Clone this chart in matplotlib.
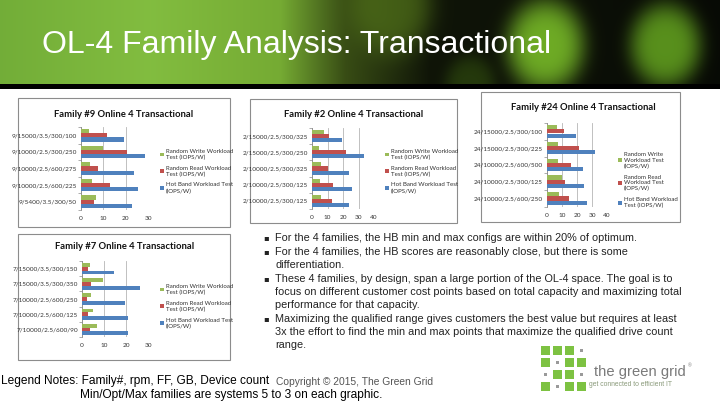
import matplotlib
matplotlib.use("Agg")
import matplotlib.pyplot as plt
import numpy as np
from matplotlib.patches import Rectangle

W, H = 720, 405

# ---- data (top row first) ----
fam9_labels = ["9/15000/3.5/300/100", "9/10000/2.5/300/250", "9/10000/2.5/600/275",
               "9/10000/2.5/600/225", "9/5400/3.5/300/50"]
fam9_write = [3.5, 10.0, 4.0, 4.8, 6.7]
fam9_read = [11.5, 20.4, 7.5, 13.0, 6.0]
fam9_hot = [19.4, 28.5, 23.7, 25.4, 22.7]

fam2_labels = ["2/15000/2.5/300/325", "2/15000/2.5/300/250", "2/10000/2.5/300/325",
               "2/10000/2.5/300/125", "2/10000/2.5/300/125"]
fam2_write = [7.9, 4.5, 6.0, 5.3, 5.7]
fam2_read = [11.0, 21.7, 10.0, 13.6, 12.8]
fam2_hot = [19.4, 33.6, 23.8, 25.5, 23.8]

fam24_labels = ["24/15000/2.5/300/100", "24/15000/2.5/300/225", "24/10000/2.5/600/500",
                "24/10000/2.5/300/125", "24/10000/2.5/600/250"]
fam24_write = [6.5, 7.1, 7.1, 9.8, 7.8]
fam24_read = [11.0, 21.0, 16.0, 12.3, 14.5]
fam24_hot = [19.0, 31.7, 23.9, 24.6, 26.6]

fam7_labels = ["7/15000/3.5/300/150", "7/15000/3.5/300/350", "7/10000/2.5/600/250",
               "7/10000/2.5/600/125", "7/10000/2.5/600/90"]
fam7_write = [3.7, 9.7, 4.0, 5.0, 6.7]
fam7_read = [2.5, 4.0, 2.2, 2.5, 3.7]
fam7_hot = [14.5, 26.5, 19.5, 21.0, 21.0]

legend_two_line = ["Random Write Workload\nTest (IOPS/W)",
                   "Random Read Workload\nTest (IOPS/W)",
                   "Hot Band Workload Test\n(IOPS/W)"]
legend_three_line = ["Random Write\nWorkload Test\n(IOPS/W)",
                     "Random Read\nWorkload Test\n(IOPS/W)",
                     "Hot Band Workload\nTest (IOPS/W)"]

bullets = [
    ["For the 4 families, the HB min and max configs are within 20% of optimum."],
    ["For the 4 families, the HB scores are reasonably close, but there is some",
     "differentiation."],
    ["These 4 families, by design, span a large portion of the OL-4 space. The goal is to",
     "focus on different customer cost points based on total capacity and maximizing total",
     "performance for that capacity."],
    ["Maximizing the qualified range gives customers the best value but requires at least",
     "3x the effort to find the min and max points that maximize the qualified drive count",
     "range."],
]

GREEN, RED, BLUE = "#9BBB59", "#C0504D", "#4F81BD"
CHART_FONT = "Lato"


def fx(x):
    return x / W


def fy(y):
    return 1 - y / H


def add_px_axes(fig, x0, y0, x1, y1, **kw):
    return fig.add_axes([fx(x0), fy(y1), (x1 - x0) / W, (y1 - y0) / H], **kw)


def draw_header(fig):
    ax = add_px_axes(fig, 0, 0, W, 84)
    xs = np.arange(W)
    ys = np.arange(84)
    stops_x = [0, 150, 280, 345, 430, 720]
    stops_c = np.array([[0.45, 0.68, 0.22], [0.51, 0.74, 0.25], [0.46, 0.67, 0.20],
                        [0.22, 0.30, 0.08], [0.06, 0.08, 0.03], [0.03, 0.04, 0.02]])
    base = np.stack([np.interp(xs, stops_x, stops_c[:, k]) for k in range(3)], axis=-1)
    img = np.repeat(base[None, :, :], len(ys), axis=0)
    gx, gy = np.meshgrid(xs, ys)
    blobs = [(390, 5, 50, (0.32, 0.45, 0.10), 0.7),
             (545, 45, 46, (0.45, 0.70, 0.15), 0.95),
             (665, 45, 42, (0.38, 0.62, 0.12), 0.9),
             (470, 85, 30, (0.20, 0.32, 0.06), 0.6)]
    for cx, cy, r, col, amp in blobs:
        d = np.hypot((gx - cx) / 0.85, gy - cy) / r
        a = amp * np.exp(-d ** 4)
        img = img * (1 - a[..., None]) + np.array(col) * a[..., None]
    ax.imshow(img, aspect="auto", extent=(0, W, 84, 0))
    ax.set_axis_off()
    band = add_px_axes(fig, 0, 84, W, 89)
    band.set_facecolor("black")
    band.set_xticks([])
    band.set_yticks([])
    for s in band.spines.values():
        s.set_visible(False)
    fig.text(fx(42), fy(45), "OL-4 Family Analysis: Transactional", color="white",
             fontsize=23, family="Liberation Sans", va="center", ha="left")


def draw_panel(fig, box, plot, title, title_xy, labels, write, read, hot,
               xmax, legend_xy, legend_labels):
    bx0, by0, bx1, by1 = box
    fig.patches.append(Rectangle((fx(bx0), fy(by1)), (bx1 - bx0) / W, (by1 - by0) / H,
                                 transform=fig.transFigure, facecolor="white",
                                 edgecolor="#8c8c8c", linewidth=0.8, zorder=-1))
    fig.text(fx(title_xy[0]), fy(title_xy[1]), title, ha="center", va="center",
             fontsize=6.8, fontweight="bold", family=CHART_FONT, color="#111111")

    ax = add_px_axes(fig, *plot)
    ax.set_facecolor("none")
    n = len(labels)
    y = np.arange(n)
    h = 0.25
    b_w = ax.barh(y - h, write, height=h, color=GREEN, zorder=3)
    b_r = ax.barh(y, read, height=h, color=RED, zorder=3)
    b_h = ax.barh(y + h, hot, height=h, color=BLUE, zorder=3)
    ax.set_ylim(n - 0.5, -0.5)
    ax.set_xlim(0, xmax)
    ax.set_xticks(np.arange(0, xmax + 1, 10))
    ax.set_yticks(y)
    ax.set_yticklabels(labels)
    ax.set_yticks(np.arange(n + 1) - 0.5, minor=True)
    ax.tick_params(axis="y", which="major", length=0, pad=3)
    ax.tick_params(axis="y", which="minor", length=2, color="#8c8c8c", width=0.5)
    ax.tick_params(axis="x", length=0, pad=4)
    for lab in ax.get_xticklabels() + ax.get_yticklabels():
        lab.set_fontsize(4.6)
        lab.set_family(CHART_FONT)
        lab.set_color("#333333")
    ax.grid(axis="x", color="#b5b5b5", linewidth=0.6, zorder=0)
    for side in ["top", "right", "bottom"]:
        ax.spines[side].set_visible(False)
    ax.spines["left"].set_color("#8c8c8c")
    ax.spines["left"].set_linewidth(0.6)

    fig.legend([b_w, b_r, b_h], legend_labels, loc="upper left",
               bbox_to_anchor=(fx(legend_xy[0]), fy(legend_xy[1])),
               frameon=False, prop={"family": CHART_FONT, "size": 4.4},
               handlelength=0.6, handleheight=0.6, handletextpad=0.4,
               labelspacing=0.9, borderpad=0, borderaxespad=0,
               labelcolor="#333333")


def draw_logo(fig):
    # the green grid mark: 4 x 4 cells, "s" = square, "d" = dot
    pattern = ["sssd", "sdss", "dssd", "sdss"]
    for r, row in enumerate(pattern):
        for c, cell in enumerate(row):
            cx = 545 + c * 12
            cy = 350 + r * 12
            if cell == "s":
                fig.patches.append(Rectangle((fx(cx - 4.5), fy(cy + 4.5)), 9 / W, 9 / H,
                                             transform=fig.transFigure,
                                             facecolor="#7DC242", edgecolor="none"))
            else:
                fig.patches.append(Rectangle((fx(cx - 1.5), fy(cy + 1.5)), 3 / W, 3 / H,
                                             transform=fig.transFigure,
                                             facecolor="#9a9a9a", edgecolor="none"))
    fig.text(fx(594), fy(372), "the green grid", fontsize=10.6,
             family="Liberation Sans", color="#7a7a7a", va="center")
    fig.text(fx(688), fy(366), "\u00ae", fontsize=3.5, family="Liberation Sans",
             color="#7a7a7a", va="center")
    fig.text(fx(589), fy(385), "get connected to efficient IT", fontsize=4.9,
             family="Liberation Sans", color="#8a9a7a", va="center")


fig = plt.figure(figsize=(W / 100, H / 100), dpi=100)
fig.patch.set_facecolor("white")

draw_header(fig)

draw_panel(fig, (18, 98, 230, 227), (81, 127, 148, 210),
           "Family #9 Online 4 Transactional", (124, 115),
           fam9_labels, fam9_write, fam9_read, fam9_hot, 30, (160, 149), legend_two_line)
draw_panel(fig, (250, 99, 457, 223), (312, 128, 374, 209),
           "Family #2 Online 4 Transactional", (354, 115),
           fam2_labels, fam2_write, fam2_read, fam2_hot, 40, (385, 149), legend_two_line)
draw_panel(fig, (481, 92, 680, 222), (547, 123, 607, 207),
           "Family #24 Online 4 Transactional", (583, 108),
           fam24_labels, fam24_write, fam24_read, fam24_hot, 40, (618, 152),
           legend_three_line)
draw_panel(fig, (18, 234, 230, 360), (82, 261, 148, 337),
           "Family #7 Online 4 Transactional", (125, 247),
           fam7_labels, fam7_write, fam7_read, fam7_hot, 30, (160, 284), legend_two_line)

# bullet text block
line_y = 238
for i, lines in enumerate(bullets):
    fig.text(fx(263), fy(line_y), "\u25aa", fontsize=6,
             family=["DejaVu Sans"], color="#222222", va="center")
    for line in lines:
        fig.text(fx(275), fy(line_y), line, fontsize=7.8, family="Liberation Sans",
                 color="#222222", va="center")
        line_y += 13.2
    line_y += 0.6

fig.text(fx(1), fy(381), "Legend Notes: Family#, rpm, FF, GB, Device count",
         fontsize=8.6, family="Liberation Sans", color="black", va="center")
fig.text(fx(80), fy(395), "Min/Opt/Max families are systems 5 to 3 on each graphic.",
         fontsize=8.6, family="Liberation Sans", color="black", va="center")
fig.text(fx(276), fy(382), "Copyright \u00a9 2015, The Green Grid",
         fontsize=7.4, family="Liberation Sans", color="#555555", va="center")

draw_logo(fig)

fig.savefig("out.png", dpi=100, facecolor="white")
